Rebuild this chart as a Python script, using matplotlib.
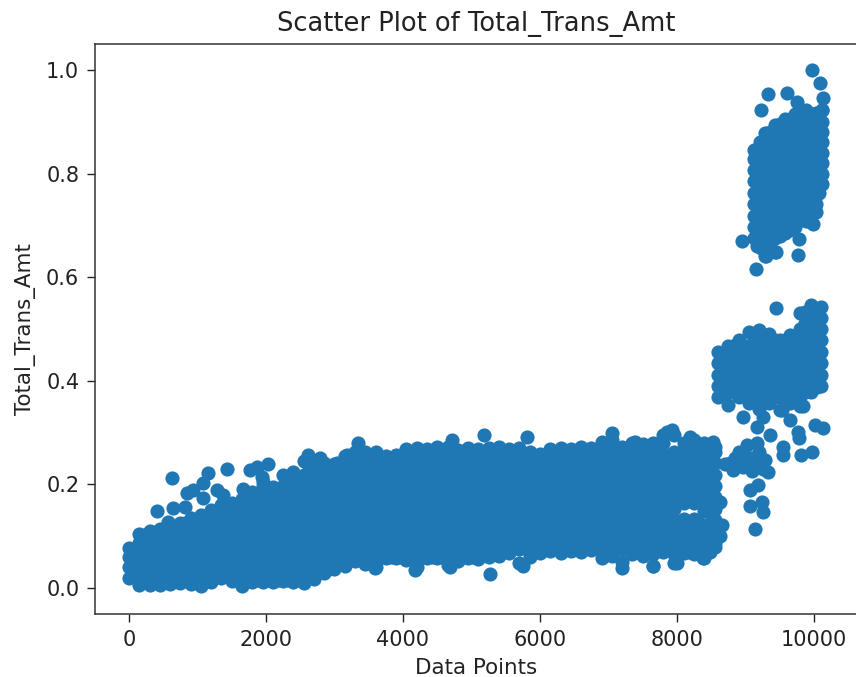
import matplotlib
matplotlib.use("Agg")

import matplotlib.pyplot as plt

# main band
body_x = [0, 150, 300, 450, 600, 750, 900, 1050, 1200, 1350, 1500, 1650, 1800, 1950, 2100, 2250, 2400, 2550, 2700, 2850,
          3000, 3150, 3300, 3450, 3600, 3750, 3900, 4050, 4200, 4350, 4500, 4650, 4800, 4950, 5100, 5250, 5400, 5550,
          5700, 5850, 6000, 6150, 6300, 6450, 6600, 6750, 6900, 7050, 7200, 7350, 7500, 7650, 7800, 7950, 8100, 8250,
          8400, 8550]
body_y = [
    [.020, .040, .060, .078],
    [.006, .021, .043, .065, .087, .105],
    [.006, .032, .054, .076, .098, .110],
    [.006, .021, .043, .065, .087, .109, .113],
    [.008, .032, .054, .076, .098, .120],
    [.010, .021, .043, .065, .087, .109, .125],
    [.008, .032, .054, .076, .098, .120, .135],
    [.004, .021, .043, .065, .087, .109, .131, .140],
    [.012, .032, .054, .076, .098, .120, .142, .150],
    [.019, .043, .065, .087, .109, .131, .153, .160],
    [.014, .032, .054, .076, .098, .120, .142, .164],
    [.004, .021, .043, .065, .087, .109, .131, .153, .172],
    [.012, .032, .054, .076, .098, .120, .142, .164, .185],
    [.012, .021, .043, .065, .087, .109, .131, .153, .175, .197, .205],
    [.012, .032, .054, .076, .098, .120, .142, .164, .186, .195],
    [.014, .021, .043, .065, .087, .109, .131, .153, .175, .197, .218],
    [.012, .032, .054, .076, .098, .120, .142, .164, .186, .208, .224],
    [.010, .021, .043, .065, .087, .109, .131, .153, .175, .197, .219, .245],
    [.018, .032, .054, .076, .098, .120, .142, .164, .186, .208, .230, .245],
    [.028, .043, .065, .087, .109, .131, .153, .175, .197, .219, .241],
    [.036, .054, .076, .098, .120, .142, .164, .186, .208, .230, .240],
    [.042, .065, .087, .109, .131, .153, .175, .197, .219, .241, .255],
    [.052, .076, .098, .120, .142, .164, .186, .208, .230, .252, .262],
    [.046, .065, .087, .109, .131, .153, .175, .197, .219, .241, .263],
    [.040, .054, .076, .098, .120, .142, .164, .186, .208, .230, .252, .262],
    [.058, .065, .087, .109, .131, .153, .175, .197, .219, .241, .255],
    [.058, .076, .098, .120, .142, .164, .186, .208, .230, .252, .257],
    [.055, .065, .087, .109, .131, .153, .175, .197, .219, .241, .263, .268],
    [.040, .054, .076, .098, .120, .142, .164, .186, .208, .230, .252, .270],
    [.058, .065, .087, .109, .131, .153, .175, .197, .219, .241, .263, .268],
    [.058, .076, .098, .120, .142, .164, .186, .208, .230, .252, .272],
    [.045, .065, .087, .109, .131, .153, .175, .197, .219, .241, .263, .272],
    [.052, .076, .098, .120, .142, .164, .186, .208, .230, .252, .266],
    [.058, .065, .087, .109, .131, .153, .175, .197, .219, .241, .263, .270],
    [.056, .076, .098, .120, .142, .164, .186, .208, .230, .252, .268],
    [.060, .065, .087, .109, .131, .153, .175, .197, .219, .241, .263, .270],
    [.062, .076, .098, .120, .142, .164, .186, .208, .230, .252, .272],
    [.068, .087, .109, .131, .153, .175, .197, .219, .241, .263, .268],
    [.048, .076, .098, .120, .142, .164, .186, .208, .230, .252, .270],
    [.060, .065, .087, .109, .131, .153, .175, .197, .219, .241, .263],
    [.068, .076, .098, .120, .142, .164, .186, .208, .230, .252, .258],
    [.072, .087, .109, .131, .153, .175, .197, .219, .241, .263, .268],
    [.068, .076, .098, .120, .142, .164, .186, .208, .230, .252, .270],
    [.072, .087, .109, .131, .153, .175, .197, .219, .241, .263, .268],
    [.070, .076, .098, .120, .142, .164, .186, .208, .230, .252, .272],
    [.074, .087, .109, .131, .153, .175, .197, .219, .241, .263, .270],
    [.058, .076, .098, .120, .142, .164, .186, .208, .230, .252, .274, .282],
    [.062, .087, .109, .131, .153, .175, .197, .219, .241, .263, .285],
    [.050, .076, .098, .120, .142, .164, .186, .208, .230, .252, .272],
    [.066, .087, .109, .131, .153, .175, .197, .219, .241, .263, .280],
    [.062, .076, .098, .120, .142, .164, .186, .208, .230, .252, .278],
    [.042, .065, .087, .109, .131, .153, .175, .197, .219, .241, .263, .280],
    [.070, .076, .098, .120, .142, .164, .186, .208, .230, .252, .280, .296],
    [.048, .065, .087, .109, .131, .153, .175, .197, .219, .241, .263, .295],
    [.068, .076, .098, .120, .133, .165, .186, .208, .230, .252, .280],
    [.065, .087, .109, .133, .165, .175, .197, .219, .241, .263, .285],
    [.058, .076, .098, .120, .149, .164, .186, .208, .230, .252, .280],
    [.079, .087, .109, .131, .153, .175, .197, .219, .241, .263, .272],
]

# points between the columns above, the band is solid in the picture
inner_x = [75, 225, 375, 525, 675, 825, 975, 1125, 1275, 1425, 1575, 1725, 1875, 2025, 2175, 2325, 2475, 2625, 2775,
           2925, 3075, 3225, 3375, 3525, 3675, 3825, 3975, 4125, 4275, 4425, 4575, 4725, 4875, 5025, 5175, 5325, 5475,
           5625, 5775, 5925, 6075, 6225, 6375, 6525, 6675, 6825, 6975, 7125, 7275, 7425, 7575, 7725, 7875, 8025, 8175,
           8325, 8475]
inner_y = [
    [.037, .059],
    [.015, .037, .059, .081, .103],
    [.015, .037, .059, .081, .103],
    [.015, .037, .059, .081, .103],
    [.015, .037, .059, .081, .103],
    [.015, .037, .059, .081, .103, .125],
    [.015, .037, .059, .081, .103, .125],
    [.015, .037, .059, .081, .103, .125],
    [.037, .059, .081, .103, .125, .147],
    [.037, .059, .081, .103, .125, .147],
    [.015, .037, .059, .081, .103, .125, .147],
    [.015, .037, .059, .081, .103, .125, .147, .169],
    [.015, .037, .059, .081, .103, .125, .147, .169],
    [.015, .037, .059, .081, .103, .125, .147, .169, .191],
    [.015, .037, .059, .081, .103, .125, .147, .169, .191],
    [.015, .037, .059, .081, .103, .125, .147, .169, .191, .213],
    [.015, .037, .059, .081, .103, .125, .147, .169, .191, .213],
    [.037, .059, .081, .103, .125, .147, .169, .191, .213, .235],
    [.037, .059, .081, .103, .125, .147, .169, .191, .213, .235],
    [.037, .059, .081, .103, .125, .147, .169, .191, .213, .235],
    [.059, .081, .103, .125, .147, .169, .191, .213, .235],
    [.059, .081, .103, .125, .147, .169, .191, .213, .235],
    [.059, .081, .103, .125, .147, .169, .191, .213, .235, .257],
    [.059, .081, .103, .125, .147, .169, .191, .213, .235, .257],
    [.059, .081, .103, .125, .147, .169, .191, .213, .235],
    [.059, .081, .103, .125, .147, .169, .191, .213, .235],
    [.059, .081, .103, .125, .147, .169, .191, .213, .235, .257],
    [.059, .081, .103, .125, .147, .169, .191, .213, .235, .257],
    [.059, .081, .103, .125, .147, .169, .191, .213, .235, .257],
    [.059, .081, .103, .125, .147, .169, .191, .213, .235, .257],
    [.059, .081, .103, .125, .147, .169, .191, .213, .235, .257],
    [.059, .081, .103, .125, .147, .169, .191, .213, .235, .257],
    [.059, .081, .103, .125, .147, .169, .191, .213, .235, .257],
    [.059, .081, .103, .125, .147, .169, .191, .213, .235, .257],
    [.081, .103, .125, .147, .169, .191, .213, .235, .257],
    [.081, .103, .125, .147, .169, .191, .213, .235, .257],
    [.081, .103, .125, .147, .169, .191, .213, .235, .257],
    [.081, .103, .125, .147, .169, .191, .213, .235, .257],
    [.081, .103, .125, .147, .169, .191, .213, .235, .257],
    [.081, .103, .125, .147, .169, .191, .213, .235],
    [.081, .103, .125, .147, .169, .191, .213, .235, .257],
    [.081, .103, .125, .147, .169, .191, .213, .235, .257],
    [.081, .103, .125, .147, .169, .191, .213, .235, .257],
    [.081, .103, .125, .147, .169, .191, .213, .235, .257],
    [.081, .103, .125, .147, .169, .191, .213, .235, .257],
    [.081, .103, .125, .147, .169, .191, .213, .235, .257],
    [.081, .103, .125, .147, .169, .191, .213, .235, .257],
    [.081, .103, .125, .147, .169, .191, .213, .235, .257],
    [.081, .103, .125, .147, .169, .191, .213, .235, .257],
    [.081, .103, .125, .147, .169, .191, .213, .235, .257],
    [.081, .103, .125, .147, .169, .191, .213, .235, .257],
    [.081, .103, .125, .147, .169, .191, .213, .235, .257],
    [.081, .103, .125, .147, .169, .191, .213, .235, .257],
    [.070, .081, .103, .125, .169, .191, .213, .235, .257],
    [.070, .081, .103, .125, .169, .191, .213, .235, .257],
    [.070, .081, .103, .125, .169, .191, .213, .235, .257, .278],
    [.070, .081, .103, .125, .147, .169, .191, .213, .235, .257, .275],
]

# cluster around 0.4 on the right
mid_x = [8600, 8675, 8750, 8825, 8900, 8975, 9050, 9125, 9200, 9275, 9350, 9425, 9500, 9575, 9650, 9725, 9800, 9875,
         9950, 10025, 10100]
mid_y = [
    [.368, .390, .412, .434, .456],
    [.379, .401, .423, .445],
    [.353, .379, .401, .423, .445, .467],
    [.379, .401, .423, .445, .467],
    [.368, .390, .412, .434, .456, .478],
    [.379, .401, .423, .445, .467],
    [.357, .379, .401, .423, .445, .467, .495],
    [.368, .390, .412, .434, .456, .478],
    [.346, .368, .390, .412, .434, .456, .478, .498],
    [.368, .390, .412, .434, .456, .478],
    [.357, .379, .401, .423, .445, .467, .490],
    [.368, .390, .412, .434, .456, .478],
    [.344, .368, .390, .412, .434, .456, .478],
    [.368, .390, .412, .434, .456, .478],
    [.357, .379, .401, .423, .445, .467, .488],
    [.368, .390, .412, .434, .456, .478],
    [.351, .368, .390, .412, .434, .456, .478, .500, .530],
    [.379, .401, .423, .445, .467, .489, .511, .533],
    [.379, .401, .423, .445, .467, .489, .511, .533, .546],
    [.401, .423, .445, .467, .489, .511, .533],
    [.390, .412, .434, .456, .478, .500, .522, .542],
]

# cluster around 0.8 on the right
top_x = [9130, 9205, 9280, 9355, 9430, 9505, 9580, 9655, 9730, 9805, 9880, 9955, 10030, 10070, 10110]
top_y = [
    [.675, .697, .719, .741, .763, .785, .807, .829, .845],
    [.662, .686, .708, .730, .752, .774, .796, .818, .840, .860],
    [.641, .660, .686, .708, .730, .752, .774, .796, .818, .840, .862, .878],
    [.665, .686, .708, .730, .752, .774, .796, .818, .840, .862, .880],
    [.649, .675, .697, .719, .741, .763, .785, .807, .829, .851, .873, .893],
    [.680, .697, .719, .741, .763, .785, .807, .829, .851, .873, .895],
    [.686, .708, .730, .752, .774, .796, .818, .840, .862, .884, .905],
    [.692, .708, .730, .752, .774, .796, .818, .840, .862, .884, .905],
    [.697, .719, .741, .763, .785, .807, .829, .851, .873, .895, .915],
    [.719, .741, .763, .785, .807, .829, .851, .873, .895, .915],
    [.708, .730, .752, .774, .796, .818, .840, .862, .884, .906, .923],
    [.741, .763, .785, .807, .829, .851, .873, .895, .915],
    [.726, .741, .763, .785, .807, .829, .851, .873, .895, .917],
    [.763, .785, .807, .829, .851, .873, .895, .915],
    [.780, .800, .820, .840, .860, .880, .900, .923],
]

# single points sticking out of the clouds
stray_x = [628, 408, 1430, 1153, 2030, 1766, 1868, 3343, 2613, 3182, 934, 847, 1080, 1285, 1080, 642, 818, 1372, 1664,
           1942, 569, 2788, 3036, 4715, 5182, 5810, 7051, 7387, 5270, 3591, 4175, 4686, 5752, 7197, 7650, 8000, 8380,
           7927, 7854, 8190, 8525, 8657, 8628, 8628,
           8774, 8964, 9285, 9328, 9022, 9168, 9358, 8818, 9066, 9182, 9066, 9241, 9255, 9139, 9547, 9547, 9810, 9971,
           9766, 9780, 10015, 10131, 9168, 9255, 8964, 9650, 9533, 9839, 10044, 9445, 8900, 9100, 9200, 8700, 8850,
           9000, 9100, 9150, 9250,
           9971, 10088, 9328, 9226, 9606, 9752, 10131, 10117, 8949, 9153, 9766, 9781, 9985, 9299, 9445, 9226, 9168]
stray_y = [.212, .149, .230, .222, .239, .228, .234, .280, .257, .257, .189, .183, .203, .189, .174, .154, .156, .180,
           .191, .214, .127, .250, .241, .286, .295, .292, .299, .282, .027, .039, .035, .041, .042, .039, .042, .048,
           .058, .305, .301, .292, .282, .122, .166, .100,
           .241, .234, .247, .224, .276, .280, .295, .228, .189, .199, .158, .166, .147, .114, .272, .257, .257, .263,
           .301, .290, .315, .309, .311, .330, .330, .324, .344, .351, .388, .541, .262, .250, .262, .240, .250,
           .255, .225, .240, .230,
           1.0, .975, .954, .923, .956, .938, .946, .923, .670, .616, .643, .674, .703, .641, .649, .656, .660]

xticks = [0, 2000, 4000, 6000, 8000, 10000]
yticks = [0.0, 0.2, 0.4, 0.6, 0.8, 1.0]

xs = list(stray_x)
ys = list(stray_y)
for col_x, col_y in zip(body_x + inner_x + mid_x + top_x, body_y + inner_y + mid_y + top_y):
    xs.extend([col_x] * len(col_y))
    ys.extend(col_y)

fig = plt.figure(figsize=(8.56, 6.77), dpi=100)
ax = fig.add_axes([95 / 856, (677 - 614) / 677, 762 / 856, 570.5 / 677])
ax.scatter(xs, ys, s=104, color="#1f77b4", linewidths=0)

ax.set_xlim(-496, 10628)
ax.set_ylim(-0.0502, 1.0511)
ax.set_xticks(xticks)
ax.set_yticks(yticks)
ax.tick_params(labelsize=15, length=5.8, width=1, colors="#222222", pad=5.5)
for spine in ax.spines.values():
    spine.set_linewidth(1.1)
    spine.set_color("#333333")

ax.set_title("Scatter Plot of Total_Trans_Amt", fontsize=18.5, color="#222222", pad=9)
ax.set_xlabel("Data Points", fontsize=15.4, color="#222222", labelpad=5.7)
ax.set_ylabel("Total_Trans_Amt", fontsize=15.4, color="#222222", labelpad=7.5)

fig.savefig("out.png", dpi=100)
plt.close(fig)
